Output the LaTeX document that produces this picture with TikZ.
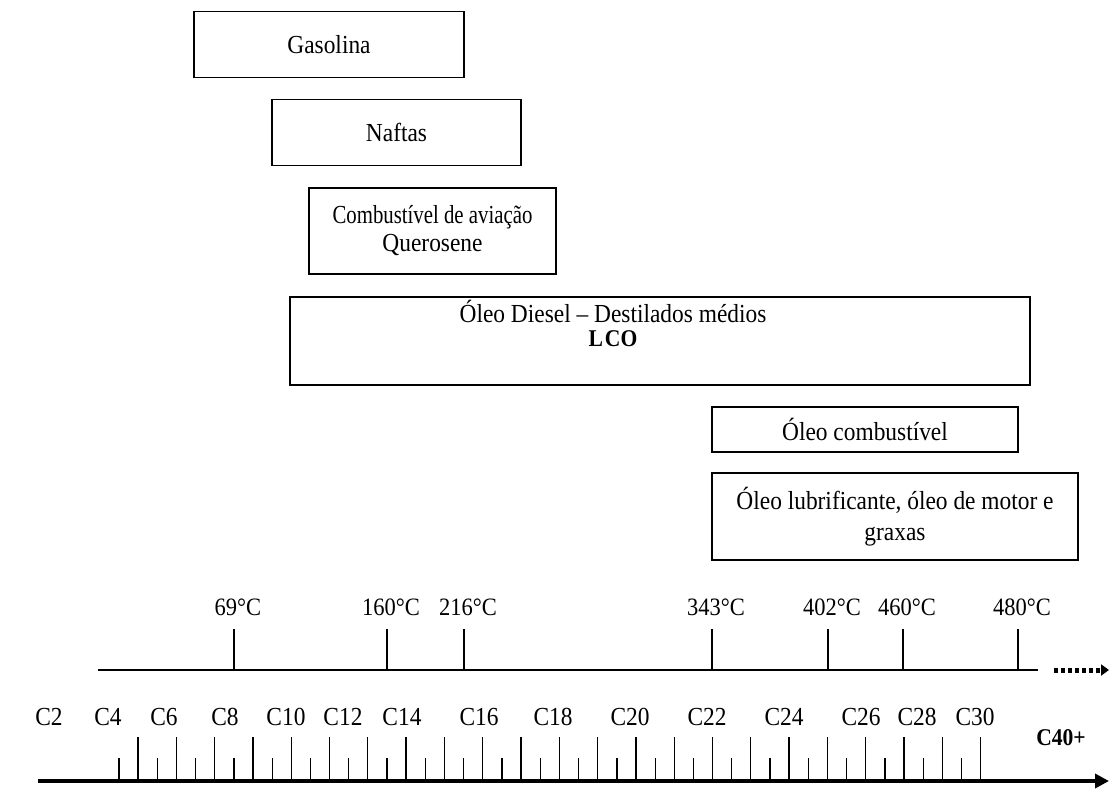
\documentclass[tikz,border=0pt]{standalone}
\usepackage{fontspec}
\setmainfont{Liberation Serif}[FakeStretch=0.9]
\newfontfamily\narrowserif{Liberation Serif}[FakeStretch=0.8]
\usetikzlibrary{arrows.meta}

\tikzset{
  box/.style={draw, line width=1.8pt, rectangle, inner sep=0pt, align=center},
  lbl/.style={inner sep=0pt, align=center},
  temptick/.style={line width=1.6pt},
  ctick/.style={line width=1.3pt},
  templbl/.style={inner sep=0pt, font=\fontsize{25}{28}\selectfont},
  clbl/.style={inner sep=0pt, font=\fontsize{26}{28}\selectfont},
}

\begin{document}
\begin{tikzpicture}[x=1pt, y=-1pt, font=\fontsize{26}{28}\selectfont]
\useasboundingbox (0,0) rectangle (1109,788);

% product ranges
\node[box, minimum width=270pt, minimum height=66pt] (gas) at (329,44.5) {Gasolina};
\node[box, minimum width=249pt, minimum height=66pt] (naf) at (396.5,132.5) {Naftas};
\node[box, minimum width=247pt, minimum height=86pt,
      font=\fontsize{26}{28}\selectfont] (qav) at (432.5,231)
      {{\narrowserif Combustível de aviação}\\Querosene};
\node[box, minimum width=740pt, minimum height=88pt] (dsl) at (660,341) {};
\node[lbl, font=\fontsize{26}{24}\selectfont] (dsltxt) at (613,323)
      {Óleo Diesel – Destilados médios\\{\bfseries\fontsize{24}{24}\selectfont L\kern2pt CO}};
\node[box, minimum width=306pt, minimum height=45pt] (oc) at (865,429.5) {Óleo combustível};
\node[box, minimum width=366pt, minimum height=87pt,
      font=\fontsize{26}{31}\selectfont] (lub) at (895,516.5)
      {Óleo lubrificante, óleo de motor e\\graxas};

% temperature axis
\coordinate (tL) at (98,670);
\coordinate (tR) at (1038,670);
\draw[line width=1.8pt] (tL) -- (tR);
\foreach \x/\t in {234/69, 387/160, 464/216, 712/343, 828/402, 903/460, 1018/480}{
  \coordinate (T\t) at (\x,670);
  \draw[temptick] (T\t) -- ++(0,-41);
  \node[templbl] (L\t) at (\x+4,607) {\t°C};
}
\coordinate (dA) at (1054,670);
\coordinate (dB) at (1109,670);
\draw[line width=5pt, dash pattern=on 4pt off 3pt,
      -{Triangle[length=8pt,width=11pt]}] (dA) -- (dB);

% carbon number axis
\coordinate (cL) at (38,781);
\coordinate (cR) at (1109,781);
\foreach \k in {0,...,22}{
  \draw[ctick] ({119+38.3*\k},781) -- ++(0,-23);
  \draw[ctick] ({138+38.3*\k},781) -- ++(0,-44);
}
\draw[line width=4pt, -{Triangle[length=14pt,width=14pt]}] (cL) -- (cR);

\foreach \x/\c in {49/2, 108/4, 164/6, 225/8, 286/10, 343/12, 402/14, 479/16,
                   553/18, 630/20, 707/22, 784/24, 861/26, 917/28, 975/30}{
  \node[clbl] (C\c) at (\x,717) {C\c};
}
\node[clbl, font=\bfseries\fontsize{24}{26}\selectfont] (C40) at (1061,738) {C40+};
\end{tikzpicture}
\end{document}
